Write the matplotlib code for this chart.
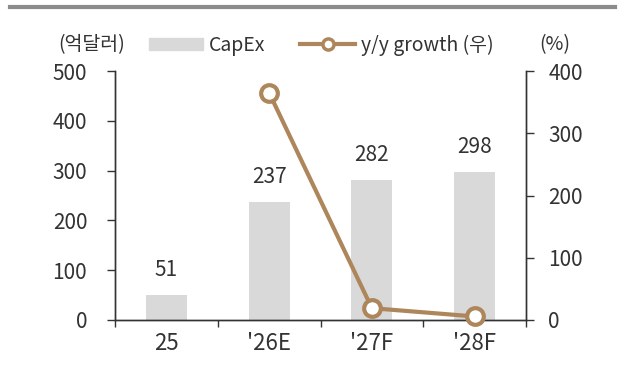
import matplotlib.pyplot as plt
from matplotlib.lines import Line2D
from matplotlib.patches import Patch

plt.rcParams['font.family'] = ['Noto Sans CJK KR', 'DejaVu Sans']

# data
years = ['25', "'26E", "'27F", "'28F"]
capex = [51, 237, 282, 298]
growth = [None, 365, 19, 5.7]

bar_color = '#D9D9D9'
line_color = '#AD875B'
text_color = '#333333'

fig = plt.figure(figsize=(6.26, 3.72), dpi=100)
ax1 = fig.add_axes([115 / 626, 1 - 320 / 372, (526 - 115) / 626, (320 - 71) / 372])
ax2 = ax1.twinx()

x = list(range(len(years)))
ax1.bar(x, capex, width=0.4, color=bar_color, zorder=1)
for xi, v in zip(x, capex):
    ax1.text(xi, v + 28, f'{v}', ha='center', va='bottom', fontsize=15, color=text_color)

gx = [xi for xi, g in zip(x, growth) if g is not None]
gy = [g for g in growth if g is not None]
ax2.plot(gx, gy, color=line_color, lw=3, marker='o', ms=12, mfc='white',
         mec=line_color, mew=3, zorder=3, clip_on=False)

ax1.set_xlim(-0.5, 3.5)
ax1.set_ylim(0, 500)
ax2.set_ylim(0, 400)
ax1.set_yticks(range(0, 501, 100))
ax2.set_yticks(range(0, 401, 100))
ax1.set_xticks([-0.5, 0.5, 1.5, 2.5, 3.5], minor=False)
ax1.set_xticklabels([])
ax1.set_xticks(x, minor=True)
ax1.set_xticklabels(years, minor=True)
ax1.tick_params(axis='x', which='major', direction='out', length=5, width=1, color=text_color)
ax1.tick_params(axis='x', which='minor', length=0, pad=9, labelsize=16, labelcolor=text_color)
ax1.tick_params(axis='y', direction='out', length=6, width=1, color=text_color,
                labelsize=15, labelcolor=text_color, pad=14)
ax2.tick_params(axis='y', direction='out', length=6, width=1, color=text_color,
                labelsize=15, labelcolor=text_color, pad=10)

for ax in (ax1, ax2):
    ax.spines['top'].set_visible(False)
    for s in ('left', 'right', 'bottom'):
        ax.spines[s].set_color(text_color)
        ax.spines[s].set_linewidth(1)

# top rule
fig.add_artist(Line2D([10 / 626, 615 / 626], [1 - 7 / 372, 1 - 7 / 372],
                      color='#8C8C8C', lw=3))

fig.text(92 / 626, 1 - 45 / 372, '(억달러)', ha='center', va='center', fontsize=14, color=text_color)
fig.text(555 / 626, 1 - 45 / 372, '(%)', ha='center', va='center', fontsize=14, color=text_color)

handles = [Patch(color=bar_color, label='CapEx'),
           Line2D([], [], color=line_color, lw=3, marker='o', ms=8, mfc='white',
                  mec=line_color, mew=2.5, label='y/y growth (우)')]
fig.legend(handles=handles, loc='center', bbox_to_anchor=(321 / 626, 1 - 45 / 372),
           ncol=2, frameon=False, fontsize=14, handlelength=2.8, handleheight=0.6,
           columnspacing=1.8, handletextpad=0.3, labelcolor=text_color)

fig.savefig('out.png', dpi=100)
